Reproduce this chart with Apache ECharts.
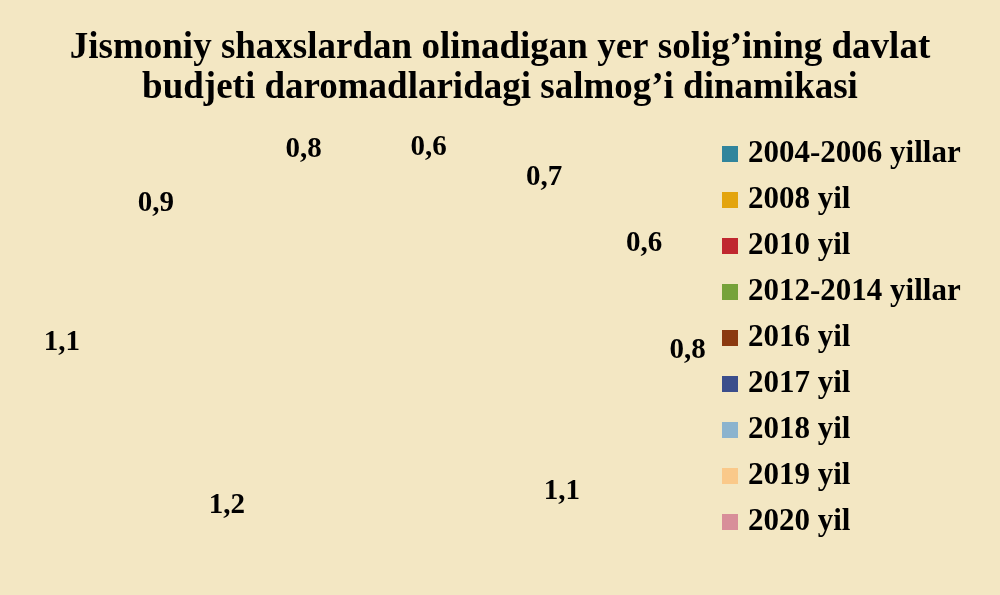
<!DOCTYPE html>
<html>
<head>
<meta charset="utf-8">
<script src="https://cdn.jsdelivr.net/npm/echarts@6/dist/echarts.min.js"></script>
<style>
html,body{margin:0;padding:0;background:#F3E7C3;}
#c{width:1000px;height:595px;}
</style>
</head>
<body>
<div id="c"></div>
<script>
const titleText = 'Jismoniy shaxslardan olinadigan yer solig\u2019ining davlat\nbudjeti daromadlaridagi salmog\u2019i dinamikasi';
const categories = ['2004-2006 yillar','2008 yil','2010 yil','2012-2014 yillar','2016 yil','2017 yil','2018 yil','2019 yil','2020 yil'];
const values = [0.6, 0.7, 0.6, 0.8, 1.1, 1.2, 1.1, 0.9, 0.8];
const colors = ['#31859C','#E3A50F','#C0282F','#76A23A','#8B3A10','#3B4E8C','#8CB4CE','#FAC98A','#D88E99'];

// pie geometry and a tilted (3D-like) projection of the label ring
const CX = 375, CY = 323, R0 = 310;
function project(lx, ly) {
  const u = (lx - CX) / R0, v = (CY - ly) / R0;
  return {x: CX + u * (300 - 80 * v), y: CY - 29 - 190 * v + 41 * v * v};
}

const chart = echarts.init(document.getElementById('c'));
const font = '"Liberation Serif","Times New Roman",serif';
chart.setOption({
  backgroundColor: '#F3E7C3',
  title: {
    text: titleText,
    left: 'center',
    top: 23,
    textStyle: {fontFamily: font, fontWeight: 'bold', fontSize: 37, lineHeight: 40, color: '#000'}
  },
  legend: {
    orient: 'vertical',
    left: 717,
    top: 133,
    itemWidth: 16,
    itemHeight: 16,
    itemGap: 14,
    icon: 'rect',
    textStyle: {fontFamily: font, fontWeight: 'bold', fontSize: 31, lineHeight: 32, color: '#000', padding: [0,0,0,5]},
    data: categories.map((n, i) => ({name: n, itemStyle: {color: colors[i], opacity: 1}}))
  },
  series: [{
    type: 'pie',
    center: [CX, CY],
    radius: [0, R0 * 2],
    startAngle: 90,
    clockwise: true,
    silent: true,
    label: {
      show: true,
      position: 'inside',
      formatter: p => String(p.value).replace('.', ','),
      fontFamily: font, fontWeight: 'bold', fontSize: 29, color: '#000'
    },
    labelLine: {show: false},
    labelLayout: function (p) {
      const r = p.labelRect;
      const pt = project(r.x + r.width / 2, r.y + r.height / 2);
      return {x: pt.x, y: pt.y, align: 'center', verticalAlign: 'middle'};
    },
    data: categories.map((n, i) => ({name: n, value: values[i], itemStyle: {color: 'rgba(0,0,0,0)'}}))
  }]
});
</script>
</body>
</html>
